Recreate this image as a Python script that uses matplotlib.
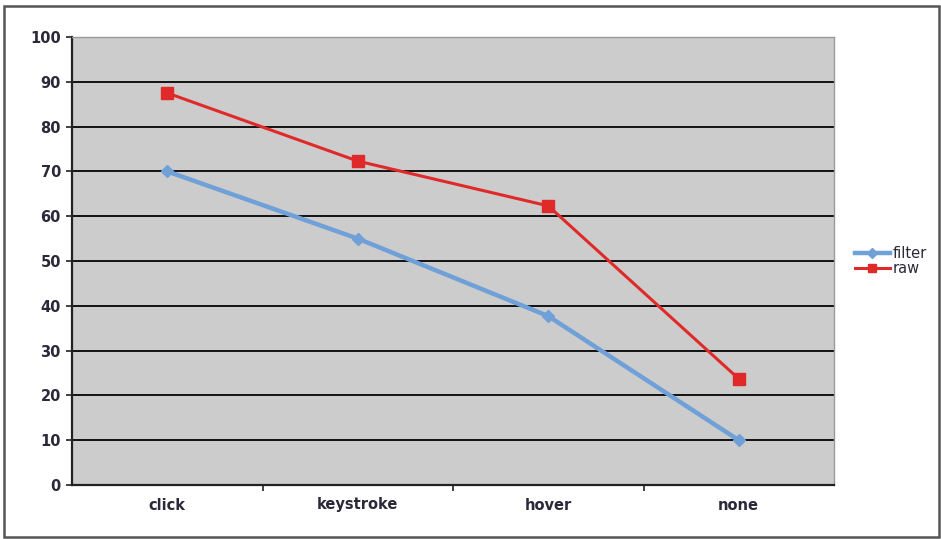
import matplotlib
matplotlib.use("Agg")
import matplotlib.pyplot as plt
from matplotlib.patches import Rectangle

categories = ["click", "keystroke", "hover", "none"]
filter_values = [70, 55, 37.7, 10]
raw_values = [87.5, 72.3, 62.3, 23.7]
y_ticks = [0, 10, 20, 30, 40, 50, 60, 70, 80, 90, 100]

text_color = "#2b2838"

fig = plt.figure(figsize=(9.41, 5.39), dpi=100)
W, H = 941, 539
ax = fig.add_axes([72 / W, 1 - 485 / H, (834 - 72) / W, (485 - 37) / H])
ax.set_facecolor("#cccccc")

# outer frame round the whole chart
fig.patches.append(Rectangle((4 / W, 2 / H), 935 / W, 531 / H,
                             transform=fig.transFigure, fill=False,
                             edgecolor="#555555", linewidth=1.8))

x = list(range(len(categories)))
ax.plot(x, filter_values, color="#6fa0d8", linewidth=3.2, marker="D",
        markersize=6, label="filter", zorder=3)
ax.plot(x, raw_values, color="#e02a2a", linewidth=2.2, marker="s",
        markersize=8, label="raw", zorder=4)

ax.set_xlim(-0.5, len(categories) - 0.5)
ax.set_ylim(0, 100)
ax.set_yticks(y_ticks)
ax.yaxis.grid(True, color="#111111", linewidth=1.4)
ax.set_axisbelow(True)

ax.set_xticks(x)
ax.set_xticklabels(categories)
ax.set_xticks([i + 0.5 for i in x[:-1]], minor=True)
ax.tick_params(axis="x", which="major", length=0, pad=9)
ax.tick_params(axis="x", which="minor", length=4, width=1.2, color="#222222")
ax.tick_params(axis="y", length=4, width=1.2, color="#222222", pad=4)
for lbl in ax.get_xticklabels() + ax.get_yticklabels():
    lbl.set_fontsize(10.5)
    lbl.set_fontweight("semibold")
    lbl.set_color(text_color)

for side in ("left", "bottom"):
    ax.spines[side].set_color("#222222")
    ax.spines[side].set_linewidth(1.6)
ax.spines["top"].set_color("#999999")
ax.spines["right"].set_color("#999999")
ax.spines["top"].set_linewidth(1.0)
ax.spines["right"].set_linewidth(1.0)

leg = ax.legend(loc="center left", bbox_to_anchor=(1.01, 0.5), frameon=False,
                handlelength=2.4, handletextpad=0.2, labelspacing=0.05,
                markerscale=0.8, fontsize=10.5)
for t in leg.get_texts():
    t.set_color(text_color)

fig.savefig("out.png", dpi=100)
